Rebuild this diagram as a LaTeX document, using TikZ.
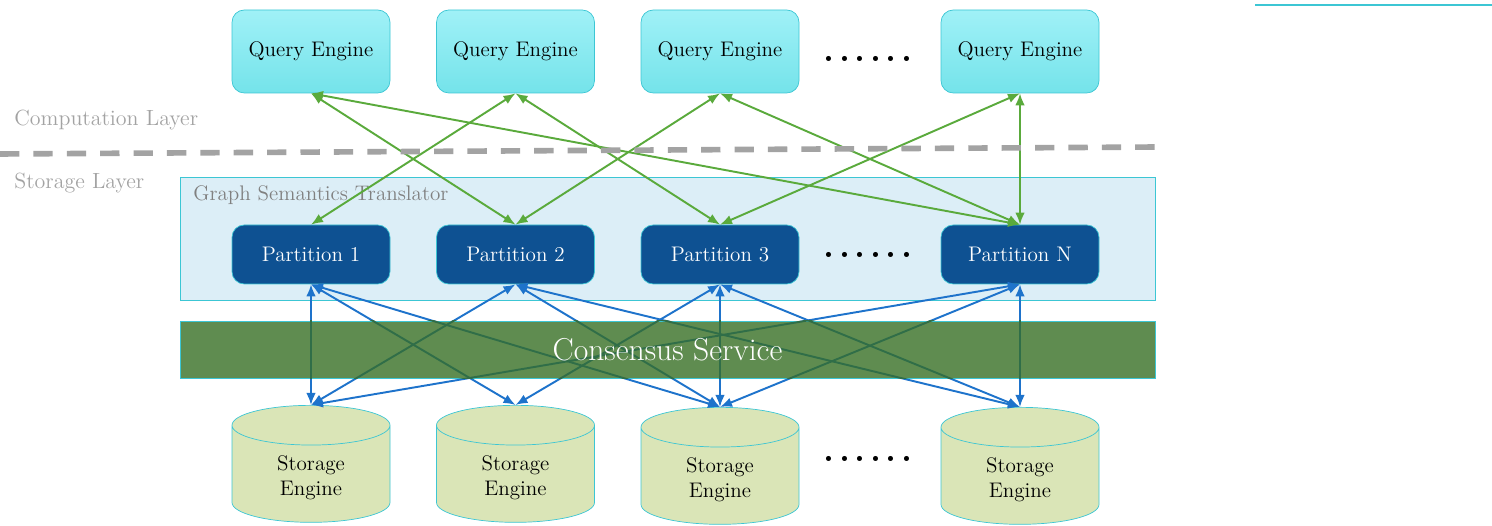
\documentclass[tikz,border=0pt]{standalone}
\usepackage{xcolor}
\usepackage{tikz}
\usetikzlibrary{arrows.meta,shapes.geometric}
\definecolor{cQ}{HTML}{74E3EA}
\definecolor{cQtop}{HTML}{A0F1F7}
\definecolor{cEdge}{HTML}{3CC6D4}
\definecolor{cPart}{HTML}{0E5192}
\definecolor{cTrans}{HTML}{DCEEF7}
\definecolor{cCons}{HTML}{5F8C50}
\definecolor{cUnder}{HTML}{306E48}
\definecolor{cDisk}{HTML}{DAE5B7}
\definecolor{cUp}{HTML}{5AAA3C}
\definecolor{cDown}{HTML}{1E73CB}
\definecolor{cLayer}{HTML}{A3A3A3}
\tikzset{
  qbox/.style={draw=cEdge,rounded corners=7pt,top color=cQtop,bottom color=cQ,minimum width=3.16cm,minimum height=1.66cm,font=\fontsize{12}{14}\selectfont},
  pbox/.style={draw=cEdge,rounded corners=7pt,fill=cPart,text=white,minimum width=3.16cm,minimum height=1.18cm,font=\fontsize{12}{14}\selectfont},
  disk/.style={cylinder,shape border rotate=90,aspect=0.5,draw=cEdge,fill=cDisk,minimum width=3.16cm,minimum height=2.34cm,align=center,anchor=north,font=\fontsize{12}{14}\selectfont},
  link/.style={{Latex[length=2.4mm,width=1.9mm]}-{Latex[length=2.4mm,width=1.9mm]},line width=1.1pt},
  layer/.style={text=cLayer,font=\fontsize{12.5}{14}\selectfont,anchor=west,inner sep=0pt},
  dots/.style={font=\fontsize{20}{20}\selectfont\bfseries}
}
\newcommand{\sixdots}{.\kern2.6pt.\kern2.6pt.\kern2.6pt.\kern2.6pt.\kern2.6pt.}
\newcommand{\downlinks}{p1/s1,p1/s2,p1/s3,p2/s1,p2/s3,p2/sn,p3/s2,p3/s3,p3/sn,pn/s1,pn/s3,pn/sn}

\begin{document}
\begin{tikzpicture}
  \useasboundingbox (0,0) rectangle (29.84,10.52);
  \node[draw=cEdge,fill=cTrans,minimum width=19.5cm,minimum height=2.46cm] (gst) at (13.35,5.75) {};
  \node[text=black!50,font=\fontsize{12}{14}\selectfont,anchor=west,inner sep=0pt] (gsttitle) at (3.86,6.62) {Graph Semantics Translator};
  % query engines
  \node[qbox] (q1) at (6.22,9.49) {Query Engine};
  \node[qbox] (q2) at (10.31,9.49) {Query Engine};
  \node[qbox] (q3) at (14.40,9.49) {Query Engine};
  \node[qbox] (q4) at (20.40,9.49) {Query Engine};
  \node[dots] (qdots) at (17.36,9.34) {\sixdots};
  % partitions
  \node[pbox] (p1) at (6.22,5.43) {Partition 1};
  \node[pbox] (p2) at (10.31,5.43) {Partition 2};
  \node[pbox] (p3) at (14.40,5.43) {Partition 3};
  \node[pbox] (pn) at (20.40,5.43) {Partition N};
  \node[dots] (pdots) at (17.36,5.42) {\sixdots};
  % storage engines
  \node[disk] (s1) at (6.22,2.42) {Storage\\Engine};
  \node[disk] (s2) at (10.31,2.42) {Storage\\Engine};
  \node[disk] (s3) at (14.40,2.38) {Storage\\Engine};
  \node[disk] (sn) at (20.40,2.38) {Storage\\Engine};
  \node[dots] (sdots) at (17.36,1.34) {\sixdots};
  \foreach \a/\b in {q1/p2,q1/pn,q2/p1,q2/p3,q3/p2,q3/pn,q4/p3,q4/pn}
    \draw[link,cUp] (\a.south) -- (\b.north);
  \foreach \a/\b in \downlinks
    \draw[link,cDown] (\a.south) -- (\b.north);
  % consensus band covers the links
  \node[draw=cEdge,fill=cCons,minimum width=19.5cm,minimum height=1.14cm] (cons) at (13.35,3.53) {};
  \begin{scope}
    \clip (cons.south west) rectangle (cons.north east);
    \foreach \a/\b in \downlinks
      \draw[cUnder,line width=1.1pt] (\a.south) -- (\b.north);
  \end{scope}
  \node[text=white,font=\fontsize{18}{20}\selectfont] (constext) at (cons) {Consensus\ Service};
  % layer split
  \draw[cLayer,line width=3.2pt,dash pattern=on 11pt off 8pt] (0,7.44) -- (23.2,7.58);
  \node[layer] (comp) at (0.28,8.12) {Computation Layer};
  \node[layer] (stor) at (0.28,6.86) {Storage Layer};
  \draw[cEdge,line width=0.6pt] (25.1,10.42) -- (29.84,10.42);
\end{tikzpicture}
\end{document}
